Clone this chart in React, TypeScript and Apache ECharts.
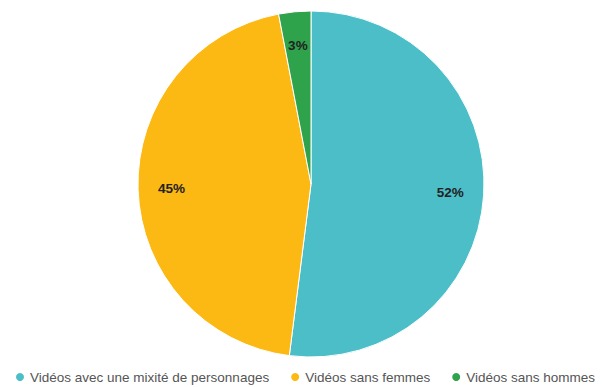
import React, { useEffect, useRef } from "react";
import * as echarts from "echarts";

const categories = [
  "Vidéos avec une mixité de personnages",
  "Vidéos sans femmes",
  "Vidéos sans hommes",
];
const values = [52, 45, 3];
const colors = ["#4bbec8", "#fcb813", "#2fa24c"];

export default function App() {
  const ref = useRef<HTMLDivElement>(null);
  useEffect(() => {
    const chart = echarts.init(ref.current!, null, { renderer: "svg" });
    const data = categories.map((name, i) => ({
      name,
      value: values[i],
      itemStyle: { color: colors[i] },
    }));
    chart.setOption({
      animation: false,
      legend: {
        show: true,
        top: 357,
        left: 1,
        icon: "circle",
        itemWidth: 10,
        itemHeight: 10,
        itemGap: 20,
        textStyle: { fontSize: 13.5, color: "#555", fontFamily: "Liberation Sans, Arial, sans-serif" },
        data: categories,
      },
      series: [
        {
          type: "pie",
          center: [303, 176],
          radius: [0, 173],
          startAngle: 90,
          clockwise: true,
          data,
          label: { show: false },
          labelLine: { show: false },
          itemStyle: { borderColor: "#fff", borderWidth: 1 },
          emphasis: { disabled: true },
        },
        {
          type: "pie",
          center: [303, 176],
          radius: [100, 173],
          startAngle: 90,
          clockwise: true,
          data: categories.map((name, i) => ({ name, value: values[i] })),
          itemStyle: { color: "transparent" },
          label: {
            show: true,
            position: "inside",
            formatter: "{d}%",
            fontSize: 13.5,
            fontWeight: "bold",
            color: "#222",
            fontFamily: "Liberation Sans, Arial, sans-serif",
          },
          labelLine: { show: false },
          emphasis: { disabled: true },
          silent: true,
          legendHoverLink: false,
        },
      ],
    });
    return () => chart.dispose();
  }, []);
  return <div ref={ref} style={{ width: 600, height: 379 }} />;
}
